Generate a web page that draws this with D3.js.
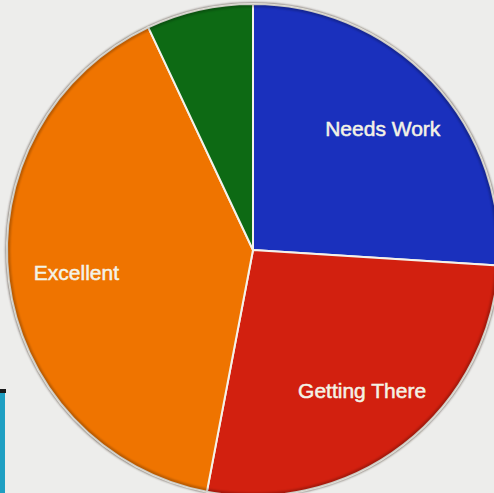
<!DOCTYPE html>
<html>
<head>
<meta charset="utf-8">
<script src="https://cdn.jsdelivr.net/npm/d3@7"></script>
<style>
  html, body { margin: 0; padding: 0; background: #ededeb; }
  svg { display: block; }
</style>
</head>
<body>
<svg id="chart" width="494" height="493"></svg>
<script>
// Ratings share (percent), clockwise from 12 o'clock
const categories = ["Needs Work", "Getting There", "Excellent", "Other"];
const values = [26, 27, 40, 7];
const colors = ["#1a30bd", "#d2200f", "#ef7400", "#0d6a14"];
const showLabel = [true, true, true, false];

const width = 494, height = 493;
const cx = 253, cy = 250, radius = 246;

const svg = d3.select("#chart");

// Background
svg.append("rect").attr("width", width).attr("height", height).attr("fill", "#ededeb");

// Slide decoration strip in the lower-left corner
svg.append("rect").attr("x", 0).attr("y", 389).attr("width", 6).attr("height", 4).attr("fill", "#1a1a1a");
svg.append("rect").attr("x", 0).attr("y", 393).attr("width", 5).attr("height", 100).attr("fill", "#1f9fc2");

const defs = svg.append("defs");
defs.append("filter").attr("id", "soft")
  .append("feGaussianBlur").attr("stdDeviation", 1.2);

const data = categories.map((c, i) => ({ name: c, value: values[i], color: colors[i], label: showLabel[i] }));

const pie = d3.pie().sort(null).value(d => d.value);
const arcs = pie(data);
const arc = d3.arc().innerRadius(0).outerRadius(radius);
const labelArc = d3.arc().innerRadius(178).outerRadius(178);

const g = svg.append("g").attr("transform", `translate(${cx},${cy})`);

// Soft dark rim around the pie
g.append("circle").attr("r", radius).attr("fill", "none")
  .attr("stroke", "#3a2a20").attr("stroke-width", 3).attr("opacity", 0.6)
  .attr("filter", "url(#soft)");

g.selectAll("path.slice")
  .data(arcs)
  .join("path")
  .attr("class", "slice")
  .attr("d", arc)
  .attr("fill", d => d.data.color)
  .attr("stroke", "#f4f2ea")
  .attr("stroke-width", 2)
  .attr("stroke-linejoin", "round");

// Darker inner edge near the rim
g.append("circle").attr("r", radius - 1.5).attr("fill", "none")
  .attr("stroke", "#000").attr("stroke-width", 3).attr("opacity", 0.25)
  .attr("filter", "url(#soft)");

g.selectAll("text.lbl")
  .data(arcs.filter(d => d.data.label))
  .join("text")
  .attr("class", "lbl")
  .attr("transform", d => `translate(${labelArc.centroid(d)})`)
  .attr("text-anchor", "middle")
  .attr("dominant-baseline", "central")
  .attr("font-family", "Liberation Sans, Arial, sans-serif")
  .attr("font-size", 21)
  .attr("fill", "#f4f3e6")
  .attr("stroke", "#f4f3e6")
  .attr("stroke-width", 0.5)
  .text(d => d.data.name);
</script>
</body>
</html>
